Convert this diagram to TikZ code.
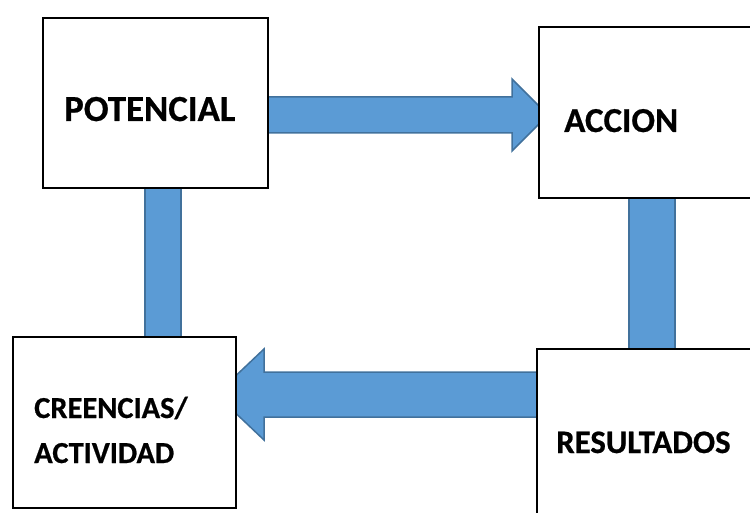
\documentclass[tikz,border=0pt]{standalone}
\usepackage{fontspec}
\setmainfont{Carlito}[BoldFeatures={FakeBold=0.6}]
\definecolor{arrfill}{HTML}{5B9BD5}
\definecolor{arrline}{HTML}{41719C}
\tikzset{
  blockarrow/.style={fill=arrfill, draw=arrline, line width=1.5pt, line join=miter},
  box/.style={draw=black, fill=white, line width=1.6pt, rectangle, inner sep=0pt, anchor=north west},
  lbl/.style={anchor=base west, inner sep=0pt, font=\bfseries}
}
\begin{document}
\begin{tikzpicture}[x=1pt, y=-1pt]
\useasboundingbox (0,0) rectangle (750,513);
\begin{scope}
\clip (0,0) rectangle (750,513);
% connectors (block arrows and bars), drawn below the boxes
\draw[blockarrow] (255,97) -- (512,97) -- (512,79) -- (548,115) -- (512,151) -- (512,133) -- (255,133) -- cycle;
\draw[blockarrow] (548,372) -- (264,372) -- (264,349) -- (216,394.5) -- (264,440) -- (264,417) -- (548,417) -- cycle;
\draw[blockarrow] (145,180) rectangle (181,345);
\draw[blockarrow] (629,190) rectangle (675,356);
% boxes
\node[box, minimum width=225pt, minimum height=170pt] (pot) at (42,17) {};
\node[box, minimum width=230pt, minimum height=171pt] (acc) at (538,26) {};
\node[box, minimum width=223pt, minimum height=171pt] (cre) at (12,336) {};
\node[box, minimum width=230pt, minimum height=190pt] (res) at (536,348) {};
\end{scope}
% labels
\node[lbl, font=\bfseries\fontsize{36.8}{36.8}\selectfont] (tpot) at (64,121) {POTENCIAL};
\node[lbl, font=\bfseries\fontsize{35}{35}\selectfont] (tacc) at (564,132) {ACCION};
\node[lbl, font=\bfseries\fontsize{30.5}{30.5}\selectfont] (tcre1) at (34,418) {CREENCIAS/};
\node[lbl, font=\bfseries\fontsize{30.5}{30.5}\selectfont] (tcre2) at (34,463) {ACTIVIDAD};
\node[lbl, font=\bfseries\fontsize{32.8}{32.8}\selectfont] (tres) at (556,453) {RESULTADOS};
\end{tikzpicture}
\end{document}
